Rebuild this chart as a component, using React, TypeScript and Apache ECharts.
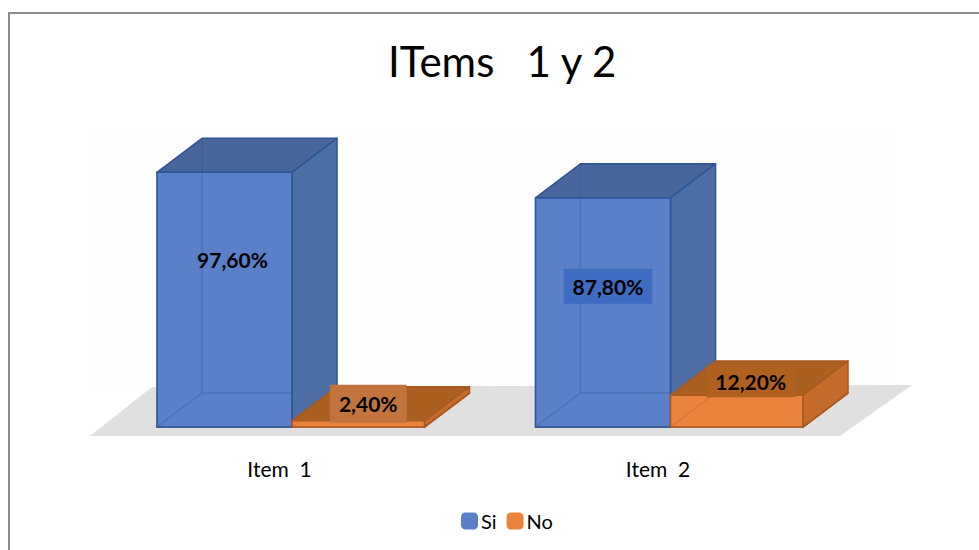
import React, { useEffect, useRef } from "react";
import * as echarts from "echarts";

const categories = ["Item  1", "Item  2"];
const siValues = [97.6, 87.8];
const noValues = [2.4, 12.2];
const titleText = "ITems   1 y 2";

const FONT = "Lato, 'Open Sans', sans-serif";
const DEPTH_X = 45;
const DEPTH_Y = -34;

const SI_LOOK = {
  side: -1,
  ratio: 0.3567,
  front: "#5a80c9",
  right: "#4d6fa6",
  top: "#48669b",
  floor: "#4672bd",
  edge: "#2f5595",
  inner: "rgba(47,85,149,0.28)",
  labels: [
    { dx: 8, dy: 87, bg: "transparent", pad: [6, 9, 6, 9] },
    { dx: 5, dy: 88.5, bg: "#3f6cc0", pad: [8.5, 9, 5.5, 9] },
  ],
};
const NO_LOOK = {
  side: 1,
  ratio: 0.35,
  front: "#ea833c",
  right: "#c56c2c",
  top: "#ab6022",
  floor: "#c96f2e",
  edge: "#a9591f",
  inner: "rgba(169,89,31,0.2)",
  labels: [
    { dx: 10, dy: -17, bg: "#c2743c", pad: [11.5, 9, 5.5, 9] },
    { dx: 14, dy: -14, bg: "#b0601f", pad: [10, 9, 1, 9] },
  ],
};

const formatPct = (v: number) => v.toFixed(2).replace(".", ",") + "%";

function makeRender(look: typeof SI_LOOK) {
  return (_params: any, api: any) => {
    const cat = api.value(0);
    const val = api.value(1);
    const top = api.coord([cat, val]);
    const base = api.coord([cat, 0]);
    const band = api.size([1, 0])[0];
    const w = band * look.ratio;
    const x0 = look.side < 0 ? top[0] - w : top[0];
    const x1 = x0 + w;
    const yT = top[1];
    const yB = base[1];
    const X = DEPTH_X;
    const Y = DEPTH_Y;
    const poly = (points: number[][], fill: string, stroke = look.edge, lineWidth = 1.6) => ({
      type: "polygon",
      shape: { points },
      style: { fill, stroke, lineWidth, lineJoin: "round" },
    });
    const inner = (points: number[][]) => ({
      type: "polyline",
      shape: { points },
      style: { fill: "none", stroke: look.inner, lineWidth: 2 },
    });
    const lab = look.labels[cat];
    return {
      type: "group",
      children: [
        poly([[x0, yB], [x1, yB], [x1 + X, yB + Y], [x0 + X, yB + Y]], look.floor),
        poly([[x0, yT], [x1, yT], [x1 + X, yT + Y], [x0 + X, yT + Y]], look.top),
        poly([[x1, yT], [x1 + X, yT + Y], [x1 + X, yB + Y], [x1, yB]], look.right),
        poly([[x0, yT], [x1, yT], [x1, yB], [x0, yB]], look.front),
        inner([[x0 + X, yT + Y], [x0 + X, yB + Y], [x1, yB + Y]]),
        inner([[x0, yB], [x0 + X, yB + Y]]),
        {
          type: "text",
          style: {
            text: formatPct(val),
            x: (x0 + x1) / 2 + lab.dx,
            y: yT + lab.dy,
            align: "center",
            verticalAlign: "middle",
            font: `bold 21px ${FONT}`,
            fill: "#000000",
            backgroundColor: lab.bg,
            padding: lab.pad,
          },
        },
      ],
    };
  };
}

export default function App() {
  const ref = useRef<HTMLDivElement>(null);
  useEffect(() => {
    document.body.style.margin = "0";
    const chart = echarts.init(ref.current!, undefined, { renderer: "svg" });
    chart.setOption({
      animation: false,
      backgroundColor: "#ffffff",
      title: {
        text: titleText,
        left: 383,
        top: 35,
        textStyle: { fontFamily: FONT, fontSize: 42, fontWeight: "normal", color: "#000000" },
      },
      legend: {
        left: 456,
        top: 506,
        icon: "roundRect",
        itemWidth: 17,
        itemHeight: 17,
        itemGap: 10,
        data: ["Si", "No"],
        textStyle: { fontFamily: FONT, fontSize: 20, color: "#000000", padding: [3, 0, 0, -2] },
      },
      grid: { left: 102.75, right: 119.25, top: 166, bottom: 123 },
      xAxis: {
        type: "category",
        data: categories,
        axisLine: { show: false },
        axisTick: { show: false },
        axisLabel: {
          margin: 31,
          fontFamily: FONT,
          fontSize: 21,
          color: "#000000",
          padding: [0, 25, 0, 0],
        },
      },
      yAxis: { type: "value", min: 0, max: 100, show: false, splitLine: { show: false } },
      graphic: [
        {
          type: "polyline",
          z: 0,
          silent: true,
          shape: { points: [[9, 550], [9, 13], [979, 13]] },
          style: { fill: "none", stroke: "#8c8c8c", lineWidth: 2 },
        },
        {
          type: "rect",
          z: -2,
          silent: true,
          shape: { x: 90, y: 130, width: 800, height: 258 },
          style: { fill: "#fefefe" },
        },
        {
          type: "polygon",
          z: -1,
          silent: true,
          shape: { points: [[90, 436], [152, 387], [912, 385], [840, 436]] },
          style: { fill: "#e0e0e1" },
        },
      ],
      series: [
        {
          name: "Si",
          type: "custom",
          z: 3,
          itemStyle: { color: SI_LOOK.front, borderColor: SI_LOOK.edge },
          encode: { x: 0, y: 1 },
          renderItem: makeRender(SI_LOOK),
          data: siValues.map((v, i) => [i, v]),
        },
        {
          name: "No",
          type: "custom",
          z: 4,
          itemStyle: { color: NO_LOOK.front, borderColor: NO_LOOK.edge },
          encode: { x: 0, y: 1 },
          renderItem: makeRender(NO_LOOK),
          data: noValues.map((v, i) => [i, v]),
        },
      ],
    });
    return () => chart.dispose();
  }, []);
  return <div ref={ref} style={{ width: 979, height: 550 }} />;
}
